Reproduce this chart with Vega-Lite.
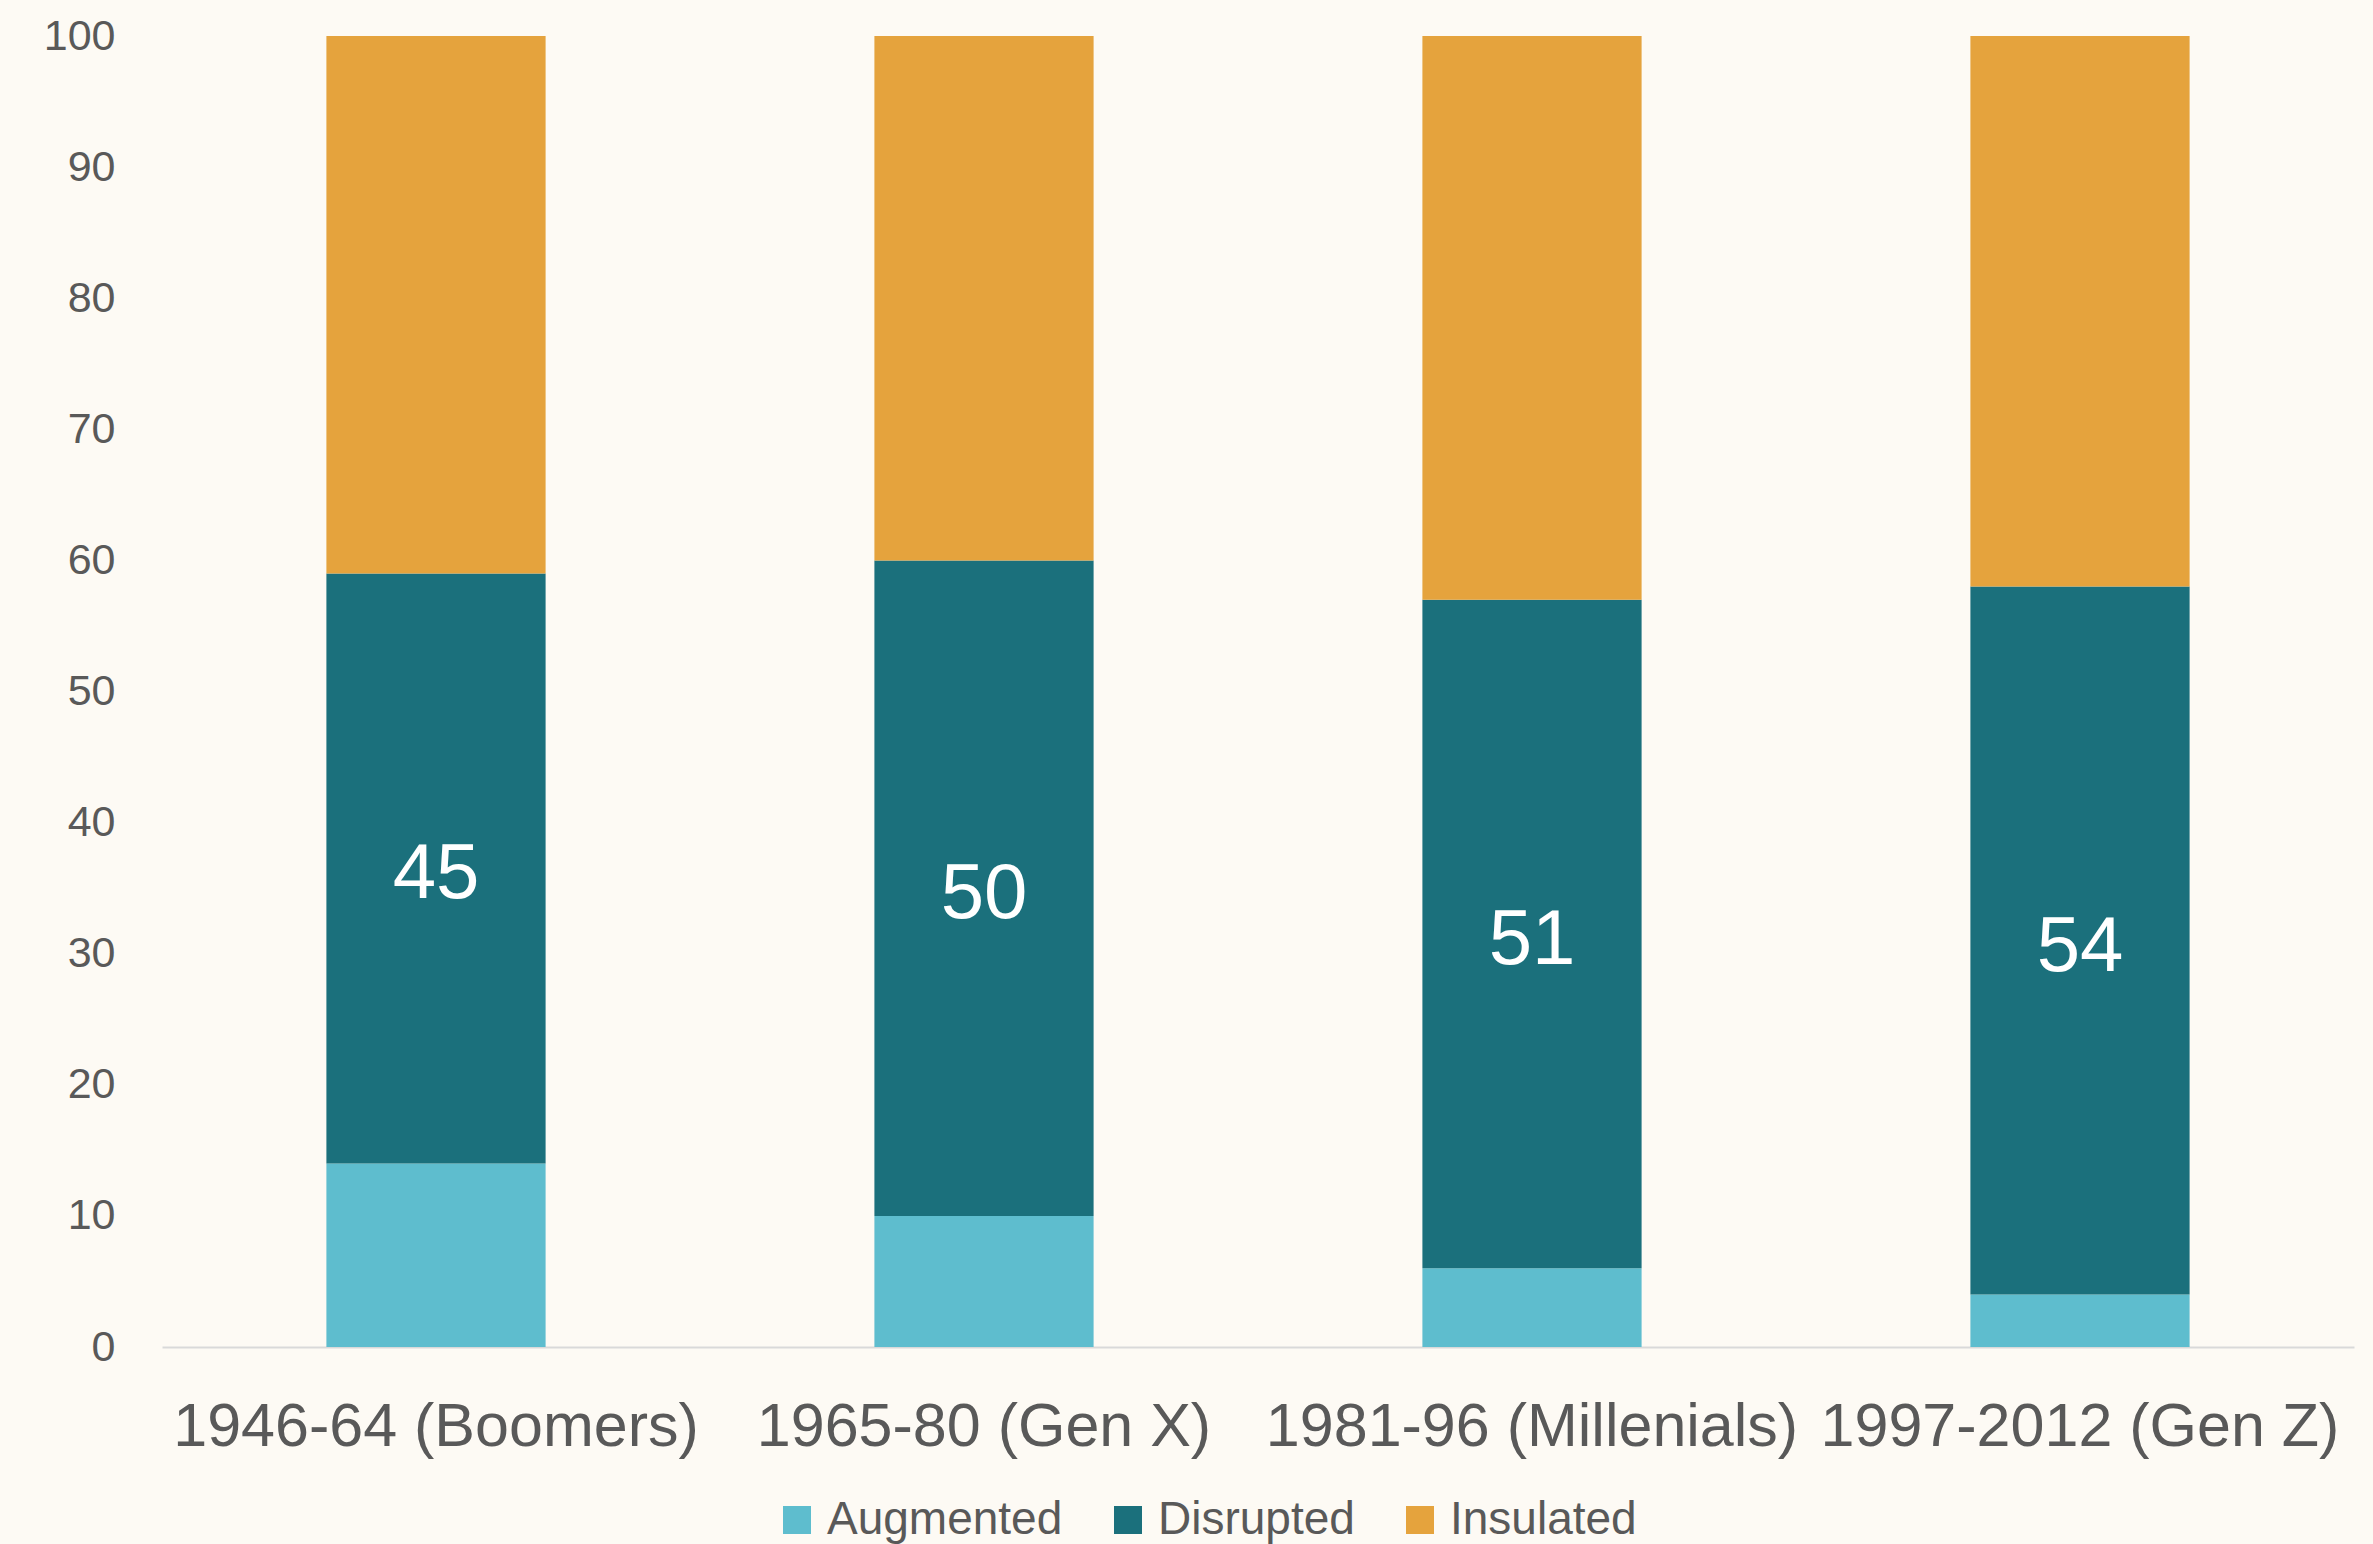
{
  "$schema": "https://vega.github.io/schema/vega-lite/v6.json",
  "autosize": {"type": "none"},
  "width": 2192,
  "height": 1311,
  "padding": {"left": 162, "top": 36, "right": 19, "bottom": 197},
  "background": "#FDFAF4",
  "config": {
    "view": {"stroke": null},
    "font": "Liberation Sans",
    "axis": {"labelColor": "#595959", "labelFont": "Liberation Sans"},
    "legend": {"labelColor": "#595959", "labelFont": "Liberation Sans"}
  },
  "data": {
    "values": [
      {"gen": "1946-64 (Boomers)", "category": "Augmented", "ord": 1, "value": 14},
      {"gen": "1946-64 (Boomers)", "category": "Disrupted", "ord": 2, "value": 45},
      {"gen": "1946-64 (Boomers)", "category": "Insulated", "ord": 3, "value": 41},
      {"gen": "1965-80 (Gen X)", "category": "Augmented", "ord": 1, "value": 10},
      {"gen": "1965-80 (Gen X)", "category": "Disrupted", "ord": 2, "value": 50},
      {"gen": "1965-80 (Gen X)", "category": "Insulated", "ord": 3, "value": 40},
      {"gen": "1981-96 (Millenials)", "category": "Augmented", "ord": 1, "value": 6},
      {"gen": "1981-96 (Millenials)", "category": "Disrupted", "ord": 2, "value": 51},
      {"gen": "1981-96 (Millenials)", "category": "Insulated", "ord": 3, "value": 43},
      {"gen": "1997-2012 (Gen Z)", "category": "Augmented", "ord": 1, "value": 4},
      {"gen": "1997-2012 (Gen Z)", "category": "Disrupted", "ord": 2, "value": 54},
      {"gen": "1997-2012 (Gen Z)", "category": "Insulated", "ord": 3, "value": 42}
    ]
  },
  "encoding": {
    "x": {
      "field": "gen",
      "type": "nominal",
      "sort": null,
      "title": null,
      "scale": {"paddingInner": 0.6, "paddingOuter": 0.3},
      "axis": {
        "labelAngle": 0,
        "labelFontSize": 61,
        "labelPadding": 50,
        "ticks": false,
        "domainColor": "#D9D9D9",
        "domainWidth": 2,
        "labelLimit": 0
      }
    },
    "y": {
      "field": "value",
      "type": "quantitative",
      "stack": "zero",
      "title": null,
      "scale": {"domain": [0, 100], "nice": false},
      "axis": {
        "values": [0, 10, 20, 30, 40, 50, 60, 70, 80, 90, 100],
        "grid": false,
        "domain": false,
        "ticks": false,
        "labelFontSize": 43,
        "labelPadding": 47
      }
    },
    "order": {"field": "ord", "type": "quantitative", "sort": "ascending"}
  },
  "layer": [
    {
      "mark": {"type": "bar"},
      "encoding": {
        "color": {
          "field": "category",
          "type": "nominal",
          "scale": {
            "domain": ["Augmented", "Disrupted", "Insulated"],
            "range": ["#5EBDCE", "#1B707C", "#E5A33D"]
          },
          "legend": {
            "title": null,
            "orient": "none",
            "direction": "horizontal",
            "legendX": 612,
            "legendY": 1461,
            "symbolType": "square",
            "symbolSize": 784,
            "symbolStrokeWidth": 0,
            "labelFontSize": 46,
            "labelOffset": 7,
            "columnPadding": 42,
            "labelLimit": 0
          }
        }
      }
    },
    {
      "mark": {"type": "text", "color": "white", "fontSize": 78, "baseline": "middle", "align": "center", "dy": 7},
      "encoding": {
        "y": {"field": "value", "type": "quantitative", "stack": "zero", "bandPosition": 0.5},
        "detail": {"field": "category", "type": "nominal"},
        "text": {
          "condition": {"test": "datum.category === 'Disrupted'", "field": "value", "type": "quantitative"},
          "value": ""
        }
      }
    }
  ]
}
